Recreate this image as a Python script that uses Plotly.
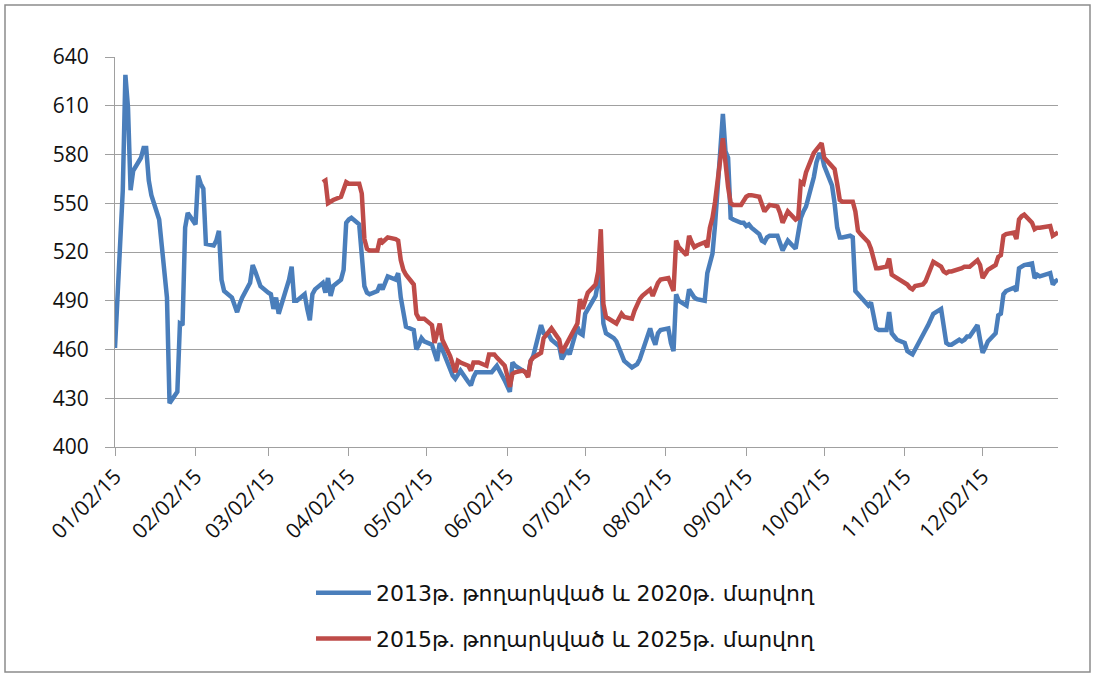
import plotly.graph_objects as go

# Daily prices of two Armenian government bonds, 2015
bond2013_dates = [
    "2015-01-02", "2015-01-05", "2015-01-06", "2015-01-07", "2015-01-08", "2015-01-09",
    "2015-01-12", "2015-01-13", "2015-01-14", "2015-01-15", "2015-01-16", "2015-01-19",
    "2015-01-20", "2015-01-21", "2015-01-22", "2015-01-23", "2015-01-26", "2015-01-27",
    "2015-01-28", "2015-01-29", "2015-01-30", "2015-02-02", "2015-02-03", "2015-02-04",
    "2015-02-05", "2015-02-06", "2015-02-09", "2015-02-10", "2015-02-11", "2015-02-12",
    "2015-02-13", "2015-02-16", "2015-02-17", "2015-02-18", "2015-02-19", "2015-02-20",
    "2015-02-23", "2015-02-24", "2015-02-25", "2015-02-26", "2015-02-27", "2015-03-02",
    "2015-03-03", "2015-03-04", "2015-03-05", "2015-03-06", "2015-03-09", "2015-03-10",
    "2015-03-11", "2015-03-12", "2015-03-13", "2015-03-16", "2015-03-17", "2015-03-18",
    "2015-03-19", "2015-03-20", "2015-03-23", "2015-03-24", "2015-03-25", "2015-03-26",
    "2015-03-27", "2015-03-30", "2015-03-31", "2015-04-01", "2015-04-02", "2015-04-03",
    "2015-04-06", "2015-04-07", "2015-04-08", "2015-04-09", "2015-04-10", "2015-04-13",
    "2015-04-14", "2015-04-15", "2015-04-16", "2015-04-17", "2015-04-20", "2015-04-21",
    "2015-04-22", "2015-04-23", "2015-04-24", "2015-04-27", "2015-04-28", "2015-04-29",
    "2015-04-30", "2015-05-01", "2015-05-04", "2015-05-05", "2015-05-06", "2015-05-07",
    "2015-05-08", "2015-05-11", "2015-05-12", "2015-05-13", "2015-05-14", "2015-05-15",
    "2015-05-18", "2015-05-19", "2015-05-20", "2015-05-21", "2015-05-22", "2015-05-25",
    "2015-05-26", "2015-05-27", "2015-05-28", "2015-05-29", "2015-06-01", "2015-06-02",
    "2015-06-03", "2015-06-04", "2015-06-05", "2015-06-08", "2015-06-09", "2015-06-10",
    "2015-06-11", "2015-06-12", "2015-06-15", "2015-06-16", "2015-06-17", "2015-06-18",
    "2015-06-19", "2015-06-22", "2015-06-23", "2015-06-24", "2015-06-25", "2015-06-26",
    "2015-06-29", "2015-06-30", "2015-07-01", "2015-07-02", "2015-07-03", "2015-07-06",
    "2015-07-07", "2015-07-08", "2015-07-09", "2015-07-10", "2015-07-13", "2015-07-14",
    "2015-07-15", "2015-07-16", "2015-07-17", "2015-07-20", "2015-07-21", "2015-07-22",
    "2015-07-23", "2015-07-24", "2015-07-27", "2015-07-28", "2015-07-29", "2015-07-30",
    "2015-07-31", "2015-08-03", "2015-08-04", "2015-08-05", "2015-08-06", "2015-08-07",
    "2015-08-10", "2015-08-11", "2015-08-12", "2015-08-13", "2015-08-14", "2015-08-17",
    "2015-08-18", "2015-08-19", "2015-08-20", "2015-08-21", "2015-08-24", "2015-08-25",
    "2015-08-26", "2015-08-27", "2015-08-28", "2015-08-31", "2015-09-01", "2015-09-02",
    "2015-09-03", "2015-09-04", "2015-09-07", "2015-09-08", "2015-09-09", "2015-09-10",
    "2015-09-11", "2015-09-14", "2015-09-15", "2015-09-16", "2015-09-17", "2015-09-18",
    "2015-09-21", "2015-09-22", "2015-09-23", "2015-09-24", "2015-09-25", "2015-09-28",
    "2015-09-29", "2015-09-30", "2015-10-01", "2015-10-02", "2015-10-05", "2015-10-06",
    "2015-10-07", "2015-10-08", "2015-10-09", "2015-10-12", "2015-10-13", "2015-10-14",
    "2015-10-15", "2015-10-16", "2015-10-19", "2015-10-20", "2015-10-21", "2015-10-22",
    "2015-10-23", "2015-10-26", "2015-10-27", "2015-10-28", "2015-10-29", "2015-10-30",
    "2015-11-02", "2015-11-03", "2015-11-04", "2015-11-05", "2015-11-06", "2015-11-09",
    "2015-11-10", "2015-11-11", "2015-11-12", "2015-11-13", "2015-11-16", "2015-11-17",
    "2015-11-18", "2015-11-19", "2015-11-20", "2015-11-23", "2015-11-24", "2015-11-25",
    "2015-11-26", "2015-11-27", "2015-11-30", "2015-12-01", "2015-12-02", "2015-12-03",
    "2015-12-04", "2015-12-07", "2015-12-08", "2015-12-09", "2015-12-10", "2015-12-11",
    "2015-12-14", "2015-12-15", "2015-12-16", "2015-12-17", "2015-12-18", "2015-12-21",
    "2015-12-22", "2015-12-23", "2015-12-24", "2015-12-28", "2015-12-29", "2015-12-30",
    "2015-12-31",
]
bond2013_prices = [
    461, 558, 629, 609, 558, 570,
    578, 584, 584, 564, 555, 540,
    524, 510, 492, 427, 434, 476,
    475, 535, 544, 537, 567, 562,
    559, 525, 524, 527, 533, 503,
    496, 492, 488, 483, 488, 492,
    501, 512, 508, 503, 499, 495,
    494, 485, 492, 482, 497, 503,
    511, 490, 490, 494, 485, 478,
    494, 497, 501, 495, 504, 493,
    499, 503, 509, 538, 540, 541,
    537, 519, 499, 495, 494, 496,
    500, 497, 502, 505, 503, 507,
    492, 482, 474, 472, 460, 463,
    467, 465, 463, 458, 453, 464,
    460, 448, 444, 442, 445, 447,
    440, 438, 443, 446, 446, 446,
    446, 446, 448, 450, 441, 438,
    434, 452, 450, 447, 446, 444,
    453, 456, 475, 470, 469, 469,
    466, 462, 454, 457, 460, 457,
    474, 470, 469, 482, 485, 493,
    502, 508, 476, 470, 467, 465,
    461, 456, 453, 449, 450, 451,
    454, 459, 473, 467, 463, 470,
    472, 473, 464, 459, 494, 490,
    487, 497, 494, 492, 491, 490,
    507, 512, 519, 537, 605, 582,
    578, 541, 540, 538, 538, 536,
    537, 535, 531, 527, 526, 529,
    530, 530, 526, 521, 524, 527,
    522, 534, 541, 545, 548, 566,
    575, 580, 580, 573, 561, 550,
    535, 529, 529, 530, 529, 496,
    494, 492, 487, 489, 482, 473,
    472, 472, 483, 470, 468, 466,
    464, 459, 458, 457, 460, 470,
    472, 475, 479, 482, 485, 472,
    464, 463, 463, 466, 465, 466,
    468, 468, 475, 466, 458, 461,
    465, 470, 481, 482, 494, 496,
    498, 496, 510, 511, 512, 513,
    504, 506, 505, 507, 500, 502,
    503,
]

bond2015_dates = [
    "2015-03-23", "2015-03-24", "2015-03-25", "2015-03-26", "2015-03-27", "2015-03-30",
    "2015-03-31", "2015-04-01", "2015-04-02", "2015-04-03", "2015-04-06", "2015-04-07",
    "2015-04-08", "2015-04-09", "2015-04-10", "2015-04-13", "2015-04-14", "2015-04-15",
    "2015-04-16", "2015-04-17", "2015-04-20", "2015-04-21", "2015-04-22", "2015-04-23",
    "2015-04-24", "2015-04-27", "2015-04-28", "2015-04-29", "2015-04-30", "2015-05-01",
    "2015-05-04", "2015-05-05", "2015-05-06", "2015-05-07", "2015-05-08", "2015-05-11",
    "2015-05-12", "2015-05-13", "2015-05-14", "2015-05-15", "2015-05-18", "2015-05-19",
    "2015-05-20", "2015-05-21", "2015-05-22", "2015-05-25", "2015-05-26", "2015-05-27",
    "2015-05-28", "2015-05-29", "2015-06-01", "2015-06-02", "2015-06-03", "2015-06-04",
    "2015-06-05", "2015-06-08", "2015-06-09", "2015-06-10", "2015-06-11", "2015-06-12",
    "2015-06-15", "2015-06-16", "2015-06-17", "2015-06-18", "2015-06-19", "2015-06-22",
    "2015-06-23", "2015-06-24", "2015-06-25", "2015-06-26", "2015-06-29", "2015-06-30",
    "2015-07-01", "2015-07-02", "2015-07-03", "2015-07-06", "2015-07-07", "2015-07-08",
    "2015-07-09", "2015-07-10", "2015-07-13", "2015-07-14", "2015-07-15", "2015-07-16",
    "2015-07-17", "2015-07-20", "2015-07-21", "2015-07-22", "2015-07-23", "2015-07-24",
    "2015-07-27", "2015-07-28", "2015-07-29", "2015-07-30", "2015-07-31", "2015-08-03",
    "2015-08-04", "2015-08-05", "2015-08-06", "2015-08-07", "2015-08-10", "2015-08-11",
    "2015-08-12", "2015-08-13", "2015-08-14", "2015-08-17", "2015-08-18", "2015-08-19",
    "2015-08-20", "2015-08-21", "2015-08-24", "2015-08-25", "2015-08-26", "2015-08-27",
    "2015-08-28", "2015-08-31", "2015-09-01", "2015-09-02", "2015-09-03", "2015-09-04",
    "2015-09-07", "2015-09-08", "2015-09-09", "2015-09-10", "2015-09-11", "2015-09-14",
    "2015-09-15", "2015-09-16", "2015-09-17", "2015-09-18", "2015-09-21", "2015-09-22",
    "2015-09-23", "2015-09-24", "2015-09-25", "2015-09-28", "2015-09-29", "2015-09-30",
    "2015-10-01", "2015-10-02", "2015-10-05", "2015-10-06", "2015-10-07", "2015-10-08",
    "2015-10-09", "2015-10-12", "2015-10-13", "2015-10-14", "2015-10-15", "2015-10-16",
    "2015-10-19", "2015-10-20", "2015-10-21", "2015-10-22", "2015-10-23", "2015-10-26",
    "2015-10-27", "2015-10-28", "2015-10-29", "2015-10-30", "2015-11-02", "2015-11-03",
    "2015-11-04", "2015-11-05", "2015-11-06", "2015-11-09", "2015-11-10", "2015-11-11",
    "2015-11-12", "2015-11-13", "2015-11-16", "2015-11-17", "2015-11-18", "2015-11-19",
    "2015-11-20", "2015-11-23", "2015-11-24", "2015-11-25", "2015-11-26", "2015-11-27",
    "2015-11-30", "2015-12-01", "2015-12-02", "2015-12-03", "2015-12-04", "2015-12-07",
    "2015-12-08", "2015-12-09", "2015-12-10", "2015-12-11", "2015-12-14", "2015-12-15",
    "2015-12-16", "2015-12-17", "2015-12-18", "2015-12-21", "2015-12-22", "2015-12-23",
    "2015-12-24", "2015-12-28", "2015-12-29", "2015-12-30", "2015-12-31",
]
bond2015_prices = [
    563, 564, 550, 551, 552, 554,
    558, 563, 562, 562, 562, 556,
    528, 522, 521, 521, 528, 526,
    528, 529, 528, 527, 515, 509,
    506, 500, 482, 479, 479, 479,
    475, 464, 470, 476, 466, 456,
    451, 446, 453, 452, 450, 447,
    452, 452, 452, 450, 457, 457,
    457, 455, 450, 444, 437, 445,
    446, 447, 446, 443, 453, 455,
    458, 467, 469, 471, 473, 466,
    458, 461, 464, 466, 476, 491,
    485, 490, 495, 500, 508, 534,
    488, 480, 477, 476, 479, 482,
    480, 479, 484, 488, 491, 493,
    497, 493, 497, 501, 503, 504,
    500, 496, 527, 523, 518, 530,
    526, 523, 524, 526, 523, 535,
    541, 551, 590, 573, 560, 550,
    549, 549, 552, 554, 555, 555,
    554, 550, 545, 547, 549, 548,
    544, 538, 541, 545, 540, 541,
    563, 562, 569, 581, 583, 585,
    587, 578, 573, 571, 562, 552,
    551, 551, 551, 545, 533, 531,
    526, 522, 516, 510, 510, 511,
    516, 506, 505, 504, 501, 500,
    498, 497, 499, 500, 502, 506,
    510, 514, 511, 508, 507, 508,
    508, 509, 510, 511, 511, 511,
    515, 512, 504, 507, 509, 512,
    517, 518, 530, 531, 532, 528,
    540, 542, 543, 538, 534, 535,
    535, 536, 530, 531, 532,
]

series_names = [
    "2013թ. թողարկված և 2020թ. մարվող",
    "2015թ. թողարկված և 2025թ. մարվող",
]
series_colors = ["#4A7EBB", "#BE4B48"]

y_ticks = [400, 430, 460, 490, 520, 550, 580, 610, 640]

W, H = 1097, 677
M_L, M_R, M_T, M_B = 115, 39, 57, 230
PW, PH = W - M_L - M_R, H - M_T - M_B


def px_to_paper(px, py):
    return (px - M_L) / PW, (H - M_B - py) / PH


fig = go.Figure()
for i, (xs, ys) in enumerate([(bond2013_dates, bond2013_prices),
                               (bond2015_dates, bond2015_prices)]):
    fig.add_trace(go.Scatter(
        x=xs, y=ys, mode="lines", name=series_names[i],
        legendgroup=f"g{i}",
        line=dict(color=series_colors[i], width=4.5),
    ))

axis_gray = "#a0a0a0"
fig.update_xaxes(
    type="date",
    range=["2015-01-02", "2015-12-31"],
    tick0="2015-01-02", dtick="M1", tickformat="%m/%d/%y",
    tickangle=-45,
    ticks="outside", ticklen=8, tickcolor=axis_gray, tickwidth=1,
    showgrid=False, showline=True, linecolor=axis_gray, linewidth=1,
    zeroline=False,
    tickfont=dict(size=21, color="#111111"),
)
fig.update_yaxes(
    range=[400, 640], tickvals=y_ticks,
    ticks="outside", ticklen=9, tickcolor=axis_gray, tickwidth=1,
    showgrid=True, gridcolor=axis_gray, gridwidth=1,
    showline=True, linecolor=axis_gray, linewidth=1,
    zeroline=False, ticklabelstandoff=12,
    tickfont=dict(size=21, color="#111111"),
)

bx0, by0 = px_to_paper(5, 5)
bx1, by1 = px_to_paper(1090, 672)
fig.add_shape(type="rect", xref="paper", yref="paper",
              x0=bx0, y0=by1, x1=bx1, y1=by0,
              line=dict(color="#8c8c8c", width=1.5), layer="below")

lx, ly = px_to_paper(311, 572)
fig.update_layout(
    width=W, height=H,
    margin=dict(l=M_L, r=M_R, t=M_T, b=M_B),
    paper_bgcolor="white", plot_bgcolor="white",
    font=dict(family="Open Sans, DejaVu Sans", color="#111111"),
    showlegend=True,
    legend=dict(
        x=lx, y=ly, xanchor="left", yanchor="top",
        orientation="v", traceorder="grouped", tracegroupgap=14,
        itemwidth=55,
        font=dict(family="DejaVu Sans", size=22, color="#111111"),
        bgcolor="rgba(0,0,0,0)",
    ),
)

fig.write_html("out.html")
